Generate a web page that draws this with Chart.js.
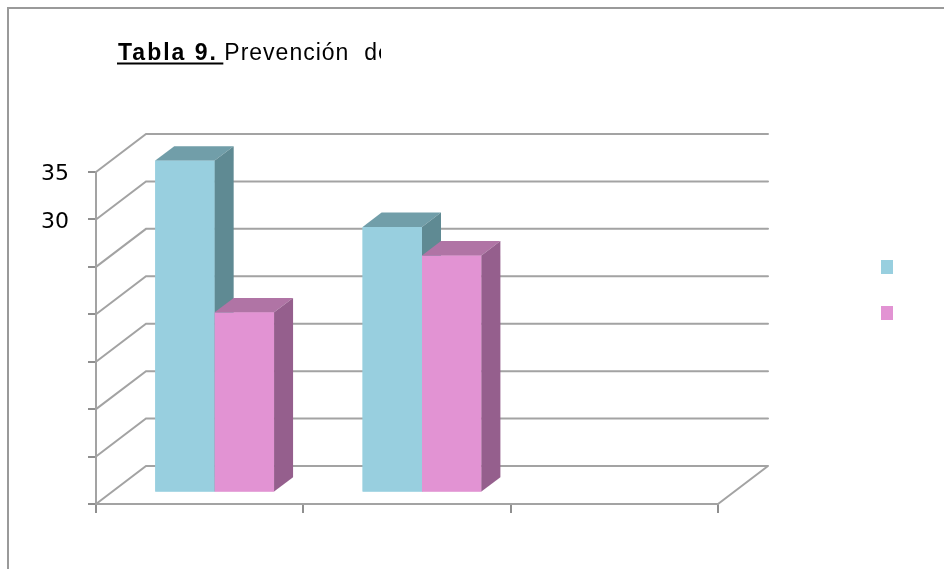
<!DOCTYPE html>
<html>
<head>
<meta charset="utf-8">
<script src="https://cdn.jsdelivr.net/npm/chart.js@4.4.1/dist/chart.umd.min.js"></script>
<style>
  html, body { margin: 0; padding: 0; background: #ffffff; }
  #wrap { width: 944px; height: 569px; position: relative; }
</style>
</head>
<body>
<div id="wrap"><canvas id="c" width="944" height="569"></canvas></div>
<script>
// Chart data
const categories = ['', '', ''];
const serie1 = [35, 28, null];
const serie2 = [19, 25, null];
const yTickValues = [0, 5, 10, 15, 20, 25, 30, 35];
const yLabelsShown = [30, 35];
const titleBold = 'Tabla 9. ';
const titleRest = 'Prevención  de';

// Colours: front, top and side faces of each series
const serieColors = [
  { front: '#98cfdf', top: '#719ea9', side: '#5f8a93' },
  { front: '#e293d3', top: '#b074a5', side: '#955f8d' }
];

// Oblique depth of the walls and of the bars
const WALL_DX = 50, WALL_DY = -38;
const BAR_SHIFT = 0.3;   // bars sit this far back from the front plane
const BAR_DEPTH = 0.38;  // bar depth as a share of the wall depth
const GRID_COLOR = '#a3a3a3';

const wallPlugin = {
  id: 'walls3d',
  beforeDraw(chart) {
    const ctx = chart.ctx;
    ctx.save();
    ctx.fillStyle = '#ffffff';
    ctx.fillRect(0, 0, chart.width, chart.height);
    // frame around the chart (left and top edges)
    ctx.strokeStyle = '#9a9a9a';
    ctx.lineWidth = 2;
    ctx.beginPath();
    ctx.moveTo(8, chart.height);
    ctx.lineTo(8, 8);
    ctx.lineTo(chart.width, 8);
    ctx.stroke();
    ctx.restore();
  },
  beforeDatasetsDraw(chart) {
    const ctx = chart.ctx;
    const y = chart.scales.y;
    const { left, right } = chart.chartArea;
    ctx.save();
    ctx.strokeStyle = GRID_COLOR;
    ctx.lineWidth = 2;
    ctx.lineCap = 'round';
    ctx.beginPath();
    y.ticks.forEach(t => {
      const py = y.getPixelForValue(t.value);
      // side wall diagonal, then back wall line
      ctx.moveTo(left, py);
      ctx.lineTo(left + WALL_DX, py + WALL_DY);
      ctx.lineTo(right + WALL_DX, py + WALL_DY);
    });
    // floor right edge
    const p0 = y.getPixelForValue(0);
    ctx.moveTo(right, p0);
    ctx.lineTo(right + WALL_DX, p0 + WALL_DY);
    ctx.stroke();
    ctx.restore();

    // bars are drawn a little behind the front plane
    ctx.save();
    ctx.translate(WALL_DX * BAR_SHIFT, WALL_DY * BAR_SHIFT);
  },
  afterDatasetsDraw(chart) {
    const ctx = chart.ctx;
    const dx = WALL_DX * BAR_DEPTH, dy = WALL_DY * BAR_DEPTH;
    const bars = [];
    chart.getSortedVisibleDatasetMetas().forEach(meta => {
      const col = serieColors[meta.index];
      meta.data.forEach((el, i) => {
        const v = chart.data.datasets[meta.index].data[i];
        if (v === null || v === undefined) return;
        const p = el.getProps(['x', 'y', 'base', 'width'], true);
        bars.push({ p, col });
      });
    });
    bars.sort((a, b) => a.p.x - b.p.x);
    bars.forEach(({ p, col }) => {
      const l = p.x - p.width / 2, r = p.x + p.width / 2;
      ctx.fillStyle = col.front;
      ctx.fillRect(l, p.y, p.width, p.base - p.y);
      ctx.fillStyle = col.top;
      ctx.beginPath();
      ctx.moveTo(l, p.y);
      ctx.lineTo(r, p.y);
      ctx.lineTo(r + dx, p.y + dy);
      ctx.lineTo(l + dx, p.y + dy);
      ctx.closePath();
      ctx.fill();
      ctx.fillStyle = col.side;
      ctx.beginPath();
      ctx.moveTo(r, p.y);
      ctx.lineTo(r + dx, p.y + dy);
      ctx.lineTo(r + dx, p.base + dy);
      ctx.lineTo(r, p.base);
      ctx.closePath();
      ctx.fill();
    });
    ctx.restore();
  },
  afterDraw(chart) {
    const ctx = chart.ctx;
    // title, cut off at the right
    ctx.save();
    ctx.beginPath();
    ctx.rect(0, 0, 381, 120);
    ctx.clip();
    ctx.fillStyle = '#000000';
    ctx.textBaseline = 'alphabetic';
    const hasSpacing = 'letterSpacing' in ctx;
    if (hasSpacing) ctx.letterSpacing = '2px';
    ctx.font = 'bold 23px "Liberation Sans", Arial, sans-serif';
    const x0 = 118, base = 59.5;
    ctx.fillText(titleBold, x0, base);
    const wBold = ctx.measureText(titleBold).width;
    ctx.fillRect(x0 - 1, base + 3, wBold - 2, 2);
    if (hasSpacing) ctx.letterSpacing = '1px';
    ctx.font = '23px "Liberation Sans", Arial, sans-serif';
    ctx.fillText(titleRest, x0 + wBold - 2, base);
    ctx.restore();

    // legend markers
    ctx.save();
    chart.data.datasets.forEach((ds, i) => {
      ctx.fillStyle = ds.backgroundColor;
      ctx.fillRect(881, 260 + i * 46, 12, 14);
    });
    ctx.restore();
  }
};

new Chart(document.getElementById('c'), {
  type: 'bar',
  data: {
    labels: categories,
    datasets: [
      { label: 'Serie 1', data: serie1, backgroundColor: serieColors[0].front, borderWidth: 0, clip: false },
      { label: 'Serie 2', data: serie2, backgroundColor: serieColors[1].front, borderWidth: 0, clip: false }
    ]
  },
  options: {
    responsive: false,
    animation: false,
    devicePixelRatio: 1,
    layout: { padding: { top: 172, right: 226, bottom: 0, left: 0 } },
    categoryPercentage: 0.573,
    barPercentage: 1.0,
    plugins: {
      legend: { display: false },
      title: { display: false },
      tooltip: { enabled: false }
    },
    scales: {
      x: {
        afterFit(scale) { scale.height = 65; },
        grid: { drawOnChartArea: false, drawTicks: true, tickLength: 9, color: '#8f8f8f', lineWidth: 2, offset: true },
        border: { display: true, color: GRID_COLOR, width: 2 },
        ticks: { display: true, font: { size: 1 } }
      },
      y: {
        min: 0,
        max: 35,
        afterFit(scale) { scale.width = 96; },
        afterBuildTicks(scale) { scale.ticks = yTickValues.map(v => ({ value: v })); },
        grid: { drawOnChartArea: false, drawTicks: true, tickLength: 8, color: '#8f8f8f', lineWidth: 2 },
        border: { display: true, color: GRID_COLOR, width: 2 },
        ticks: {
          padding: 19,
          labelOffset: 2.5,
          color: '#000000',
          font: { family: '"DejaVu Sans", Verdana, sans-serif', size: 22 },
          callback: v => (yLabelsShown.includes(v) ? String(v) : '')
        }
      }
    }
  },
  plugins: [wallPlugin]
});
</script>
</body>
</html>
